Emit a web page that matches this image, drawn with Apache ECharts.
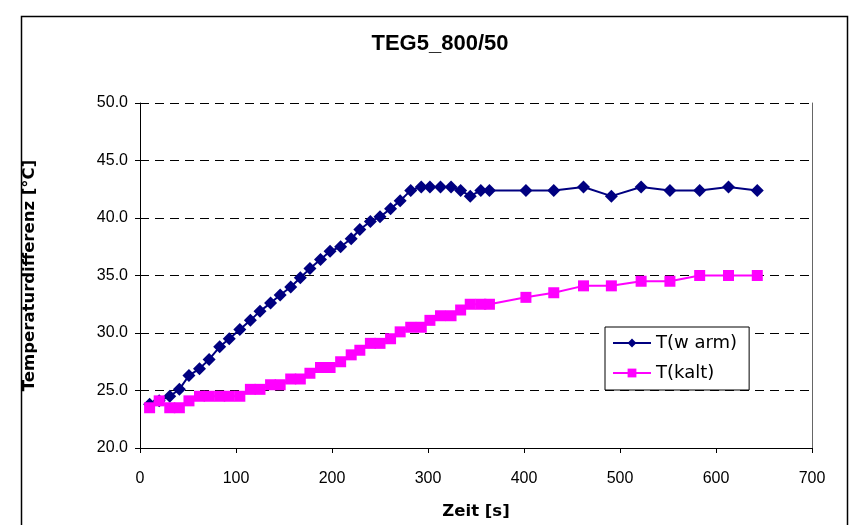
<!DOCTYPE html>
<html>
<head>
<meta charset="utf-8">
<script src="https://cdn.jsdelivr.net/npm/echarts@6/dist/echarts.min.js"></script>
<style>
  html, body { margin: 0; padding: 0; background: #fff; }
  #chart { width: 851px; height: 525px; }
</style>
</head>
<body>
<div id="chart"></div>
<script>
// Sample times in seconds
const zeit = [10, 20, 31, 41, 51, 62, 72, 83, 93, 104, 115, 125, 136, 146, 157, 167, 177, 188, 198, 209,
  220, 229, 240, 250, 261, 271, 282, 293, 302, 313, 324, 334, 344, 355, 364, 402, 431, 462, 491, 522,
  552, 583, 613, 643];

// Temperature difference, warm side [°C]
const tWarm = [23.8, 24.1, 24.5, 25.1, 26.3, 26.9, 27.7, 28.8, 29.5, 30.3, 31.1, 31.9, 32.6, 33.3, 34.0,
  34.8, 35.6, 36.4, 37.1, 37.5, 38.2, 39.0, 39.7, 40.1, 40.8, 41.5, 42.4, 42.7, 42.7, 42.7, 42.7, 42.4,
  41.9, 42.4, 42.4, 42.4, 42.4, 42.7, 41.9, 42.7, 42.4, 42.4, 42.7, 42.4];

// Temperature difference, cold side [°C]
const tKalt = [23.5, 24.1, 23.5, 23.5, 24.1, 24.5, 24.5, 24.5, 24.5, 24.5, 25.1, 25.1, 25.5, 25.5, 26.0,
  26.0, 26.5, 27.0, 27.0, 27.5, 28.1, 28.5, 29.1, 29.1, 29.5, 30.1, 30.5, 30.5, 31.1, 31.5, 31.5, 32.0,
  32.5, 32.5, 32.5, 33.1, 33.5, 34.1, 34.1, 34.5, 34.5, 35.0, 35.0, 35.0];

const seriesNames = ['T(w arm)', 'T(kalt)'];
const titleText = 'TEG5_800/50';
const xName = 'Zeit [s]';
const yName = 'Temperaturdifferenz [°C]';

const pair = (xs, ys) => xs.map((x, i) => [x, ys[i]]);
const font = 'Liberation Sans, Arial, sans-serif';
const wideFont = 'DejaVu Sans, Liberation Sans, sans-serif';

const chart = echarts.init(document.getElementById('chart'), null, { renderer: 'canvas' });
chart.setOption({
  animation: false,
  backgroundColor: '#fff',
  graphic: [{
    type: 'rect',
    shape: { x: 21.5, y: 16.5, width: 826, height: 520 },
    style: { fill: 'none', stroke: '#000', lineWidth: 1.5 },
    z: -1
  }],
  title: {
    text: titleText,
    left: 435, top: 28, textAlign: 'center',
    textStyle: { fontFamily: font, fontSize: 22, fontWeight: 'bold', color: '#000' }
  },
  grid: { left: 140, right: 39, top: 103, bottom: 77, containLabel: false },
  legend: {
    orient: 'vertical',
    left: 605, top: 327,
    padding: [7, 12, 8, 7],
    itemGap: 12,
    itemWidth: 38, itemHeight: 11,
    borderColor: '#000', borderWidth: 1,
    backgroundColor: '#fff',
    textStyle: { fontFamily: wideFont, fontSize: 18, color: '#000' },
    data: [
      { name: seriesNames[0], itemStyle: { color: '#000080' } },
      { name: seriesNames[1], itemStyle: { color: '#FF00FF' } }
    ]
  },
  xAxis: {
    type: 'value', min: 0, max: 700, interval: 100,
    name: xName, nameLocation: 'middle', nameGap: 55,
    nameTextStyle: { fontFamily: wideFont, fontSize: 16.5, fontWeight: 'bold', color: '#000' },
    axisLine: { onZero: false, lineStyle: { color: '#000', width: 1 } },
    axisTick: { show: true, inside: false, length: 5, lineStyle: { color: '#000' } },
    axisLabel: { fontFamily: font, fontSize: 16, color: '#000', margin: 23 },
    splitLine: { show: false }
  },
  yAxis: [{
    type: 'value', min: 20, max: 50, interval: 5,
    name: yName, nameLocation: 'middle', nameGap: 102, nameRotate: 90,
    nameTextStyle: { fontFamily: wideFont, fontSize: 16.5, fontWeight: 'bold', color: '#000' },
    axisLine: { show: true, lineStyle: { color: '#000', width: 1 } },
    axisTick: { show: true, inside: false, length: 5, lineStyle: { color: '#000' } },
    axisLabel: { fontFamily: font, fontSize: 16, color: '#000', margin: 12,
      formatter: v => v.toFixed(1) },
    splitLine: { show: true, lineStyle: { color: '#000', type: [9, 6], width: 1 } }
  }, {
    type: 'value', min: 20, max: 50, interval: 5, position: 'right',
    axisLine: { show: true, lineStyle: { color: '#666', width: 1 } },
    axisTick: { show: false }, axisLabel: { show: false }, splitLine: { show: false }
  }],
  series: [{
    name: seriesNames[0], type: 'line',
    data: pair(zeit, tWarm),
    symbol: 'diamond', symbolSize: 13,
    itemStyle: { color: '#000080' },
    lineStyle: { color: '#000080', width: 2 }
  }, {
    name: seriesNames[1], type: 'line',
    data: pair(zeit, tKalt),
    symbol: 'rect', symbolSize: 11,
    itemStyle: { color: '#FF00FF' },
    lineStyle: { color: '#FF00FF', width: 2 }
  }]
});
</script>
</body>
</html>
